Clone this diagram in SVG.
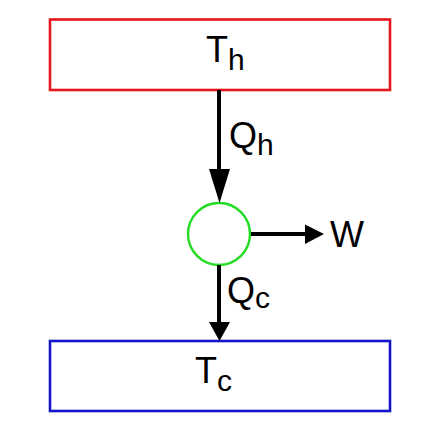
<svg xmlns="http://www.w3.org/2000/svg" width="434" height="433" viewBox="0 0 434 433">
<defs>
<style>
.lbl{font-family:"Liberation Sans",Arial,sans-serif;fill:#000;font-size:36px}
.sub{font-size:30px}
.conn{stroke:#000;stroke-width:4;fill:none}
.head{fill:#000}
</style>
</defs>
<rect width="434" height="433" fill="#fff"/>
<g id="hot">
<rect x="50" y="19.5" width="340" height="70.5" fill="#fff" stroke="#e8141b" stroke-width="2.6"/>
<text class="lbl" x="206" y="62">T<tspan class="sub" dy="8">h</tspan></text>
</g>
<g id="cold">
<rect x="50" y="341" width="340" height="70" fill="#fff" stroke="#1414c8" stroke-width="2.6"/>
<text class="lbl" x="195" y="383">T<tspan class="sub" dy="8">c</tspan></text>
</g>
<g id="engine">
<circle cx="219" cy="234" r="31" fill="#fff" stroke="#22dd22" stroke-width="2.4"/>
</g>
<g id="connectors">
<line class="conn" x1="219" y1="90" x2="219" y2="172"/>
<polygon class="head" points="209,169 230,169 219.5,203"/>
<line class="conn" x1="219" y1="265" x2="219" y2="325"/>
<polygon class="head" points="209,322 230,322 219.5,341"/>
<line class="conn" x1="251" y1="234" x2="307" y2="234"/>
<polygon class="head" points="305,224.5 305,244 324,234"/>
</g>
<g id="labels">
<text class="lbl" x="229" y="148">Q<tspan class="sub" dy="7">h</tspan></text>
<text class="lbl" x="227" y="303">Q<tspan class="sub" dy="5">c</tspan></text>
<text class="lbl" x="330" y="247">W</text>
</g>
</svg>
